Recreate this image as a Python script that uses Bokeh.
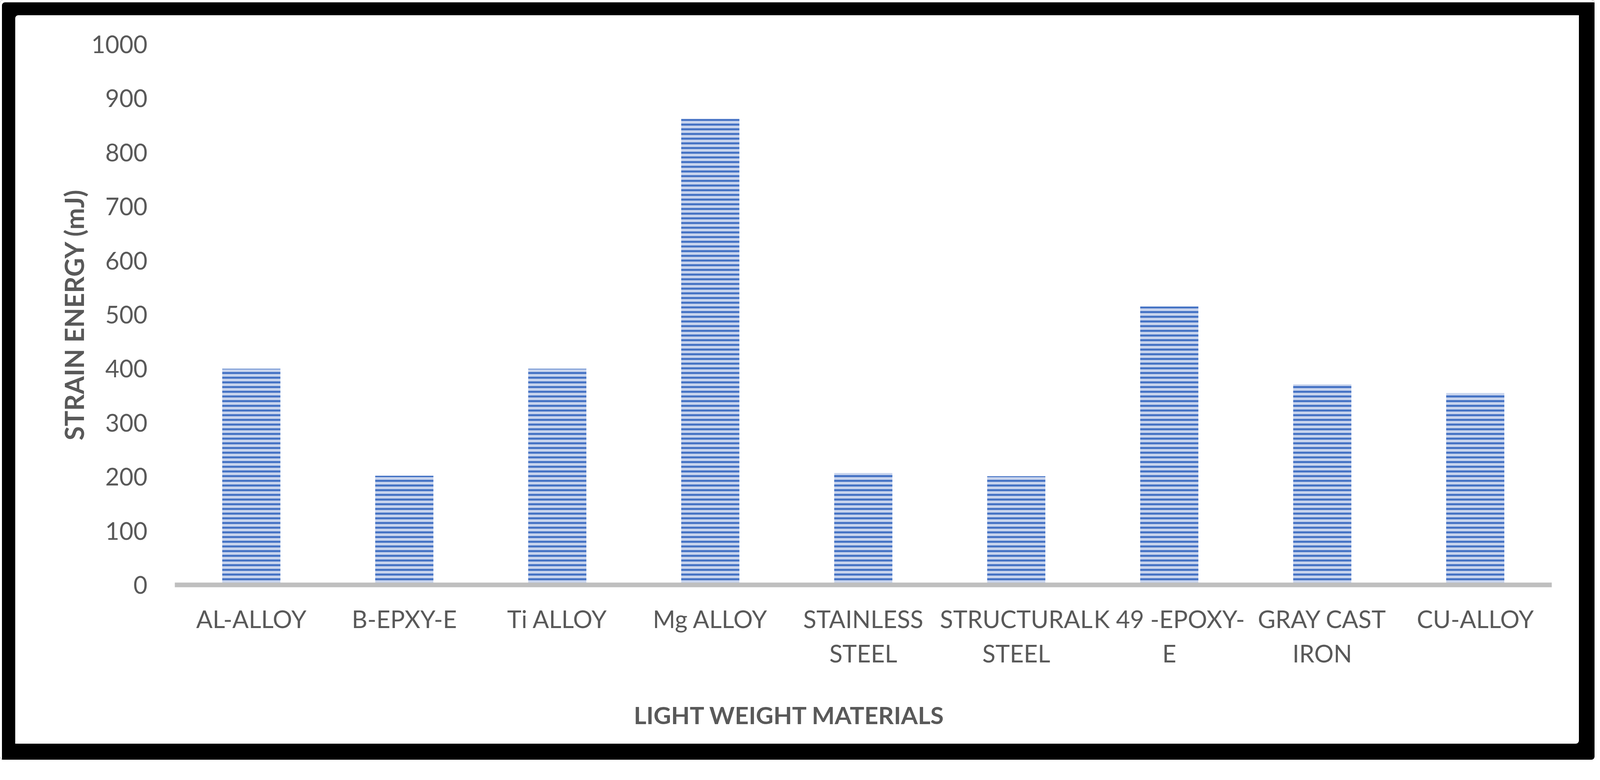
from bokeh.plotting import figure
from bokeh.models import Range1d, FixedTicker, Title
from bokeh.embed import file_html
from bokeh.resources import INLINE

# ---- data ----
categories = [
    "AL-ALLOY",
    "B-EPXY-E",
    "Ti ALLOY",
    "Mg ALLOY",
    "STAINLESS\nSTEEL",
    "STRUCTURAL\nSTEEL",
    "K 49 -EPOXY-\nE",
    "GRAY CAST\nIRON",
    "CU-ALLOY",
]
strain_energy_mj = [400, 202, 400, 862, 207, 201, 515, 371, 355]
y_ticks = [0, 100, 200, 300, 400, 500, 600, 700, 800, 900, 1000]
y_title = "STRAIN ENERGY (mJ)"
x_title = "LIGHT WEIGHT MATERIALS"

FONT = "Lato"
GREY = "#595959"

p = figure(
    x_range=categories,
    y_range=Range1d(0, 1000),
    width=4082,
    height=1945,
    output_backend="svg",
    toolbar_location=None,
    min_border_left=447,
    min_border_right=110,
    min_border_top=113,
    min_border_bottom=446,
)
p.outline_line_color = None
p.background_fill_alpha = 0
p.border_fill_alpha = 0
p.xgrid.grid_line_color = None
p.ygrid.grid_line_color = None

p.vbar(
    x=categories,
    top=strain_energy_mj,
    bottom=0,
    width=0.38,
    fill_color="#c9d5ee",
    line_color=None,
    hatch_pattern="horizontal_line",
    hatch_color="#4472c4",
    hatch_scale=12,
    hatch_weight=5.3,
)

# y axis
yax = p.yaxis[0]
yax.ticker = FixedTicker(ticks=y_ticks)
yax.axis_line_color = None
yax.major_tick_line_color = None
yax.minor_tick_line_color = None
yax.major_label_standoff = 64
yax.major_label_text_font = FONT
yax.major_label_text_font_size = "62px"
yax.major_label_text_color = GREY
yax.axis_label = y_title
yax.axis_label_text_font = FONT
yax.axis_label_text_font_size = "66px"
yax.axis_label_text_font_style = "bold"
yax.axis_label_text_color = GREY
yax.axis_label_standoff = 2

# x axis
xax = p.xaxis[0]
xax.axis_line_color = "#bfbfbf"
xax.axis_line_width = 12
xax.major_tick_line_color = None
xax.minor_tick_line_color = None
xax.major_label_standoff = 43
xax.major_label_text_font = FONT
xax.major_label_text_font_size = "62px"
xax.major_label_text_color = GREY
xax.major_label_text_line_height = 1.2

t = Title(
    text=x_title,
    align="left",
    offset=1175,
    standoff=157,
    text_font=FONT,
    text_font_size="62px",
    text_font_style="bold",
    text_color=GREY,
)
p.add_layout(t, "below")

p.styles = {
    "background-color": "white",
    "box-shadow": "inset 5px 6px 0 0 white, inset 39px 39px 0 0 black, inset -40px -41px 0 0 black",
    "border-radius": "8px",
}

open("out.html", "w").write(file_html(p, INLINE))
